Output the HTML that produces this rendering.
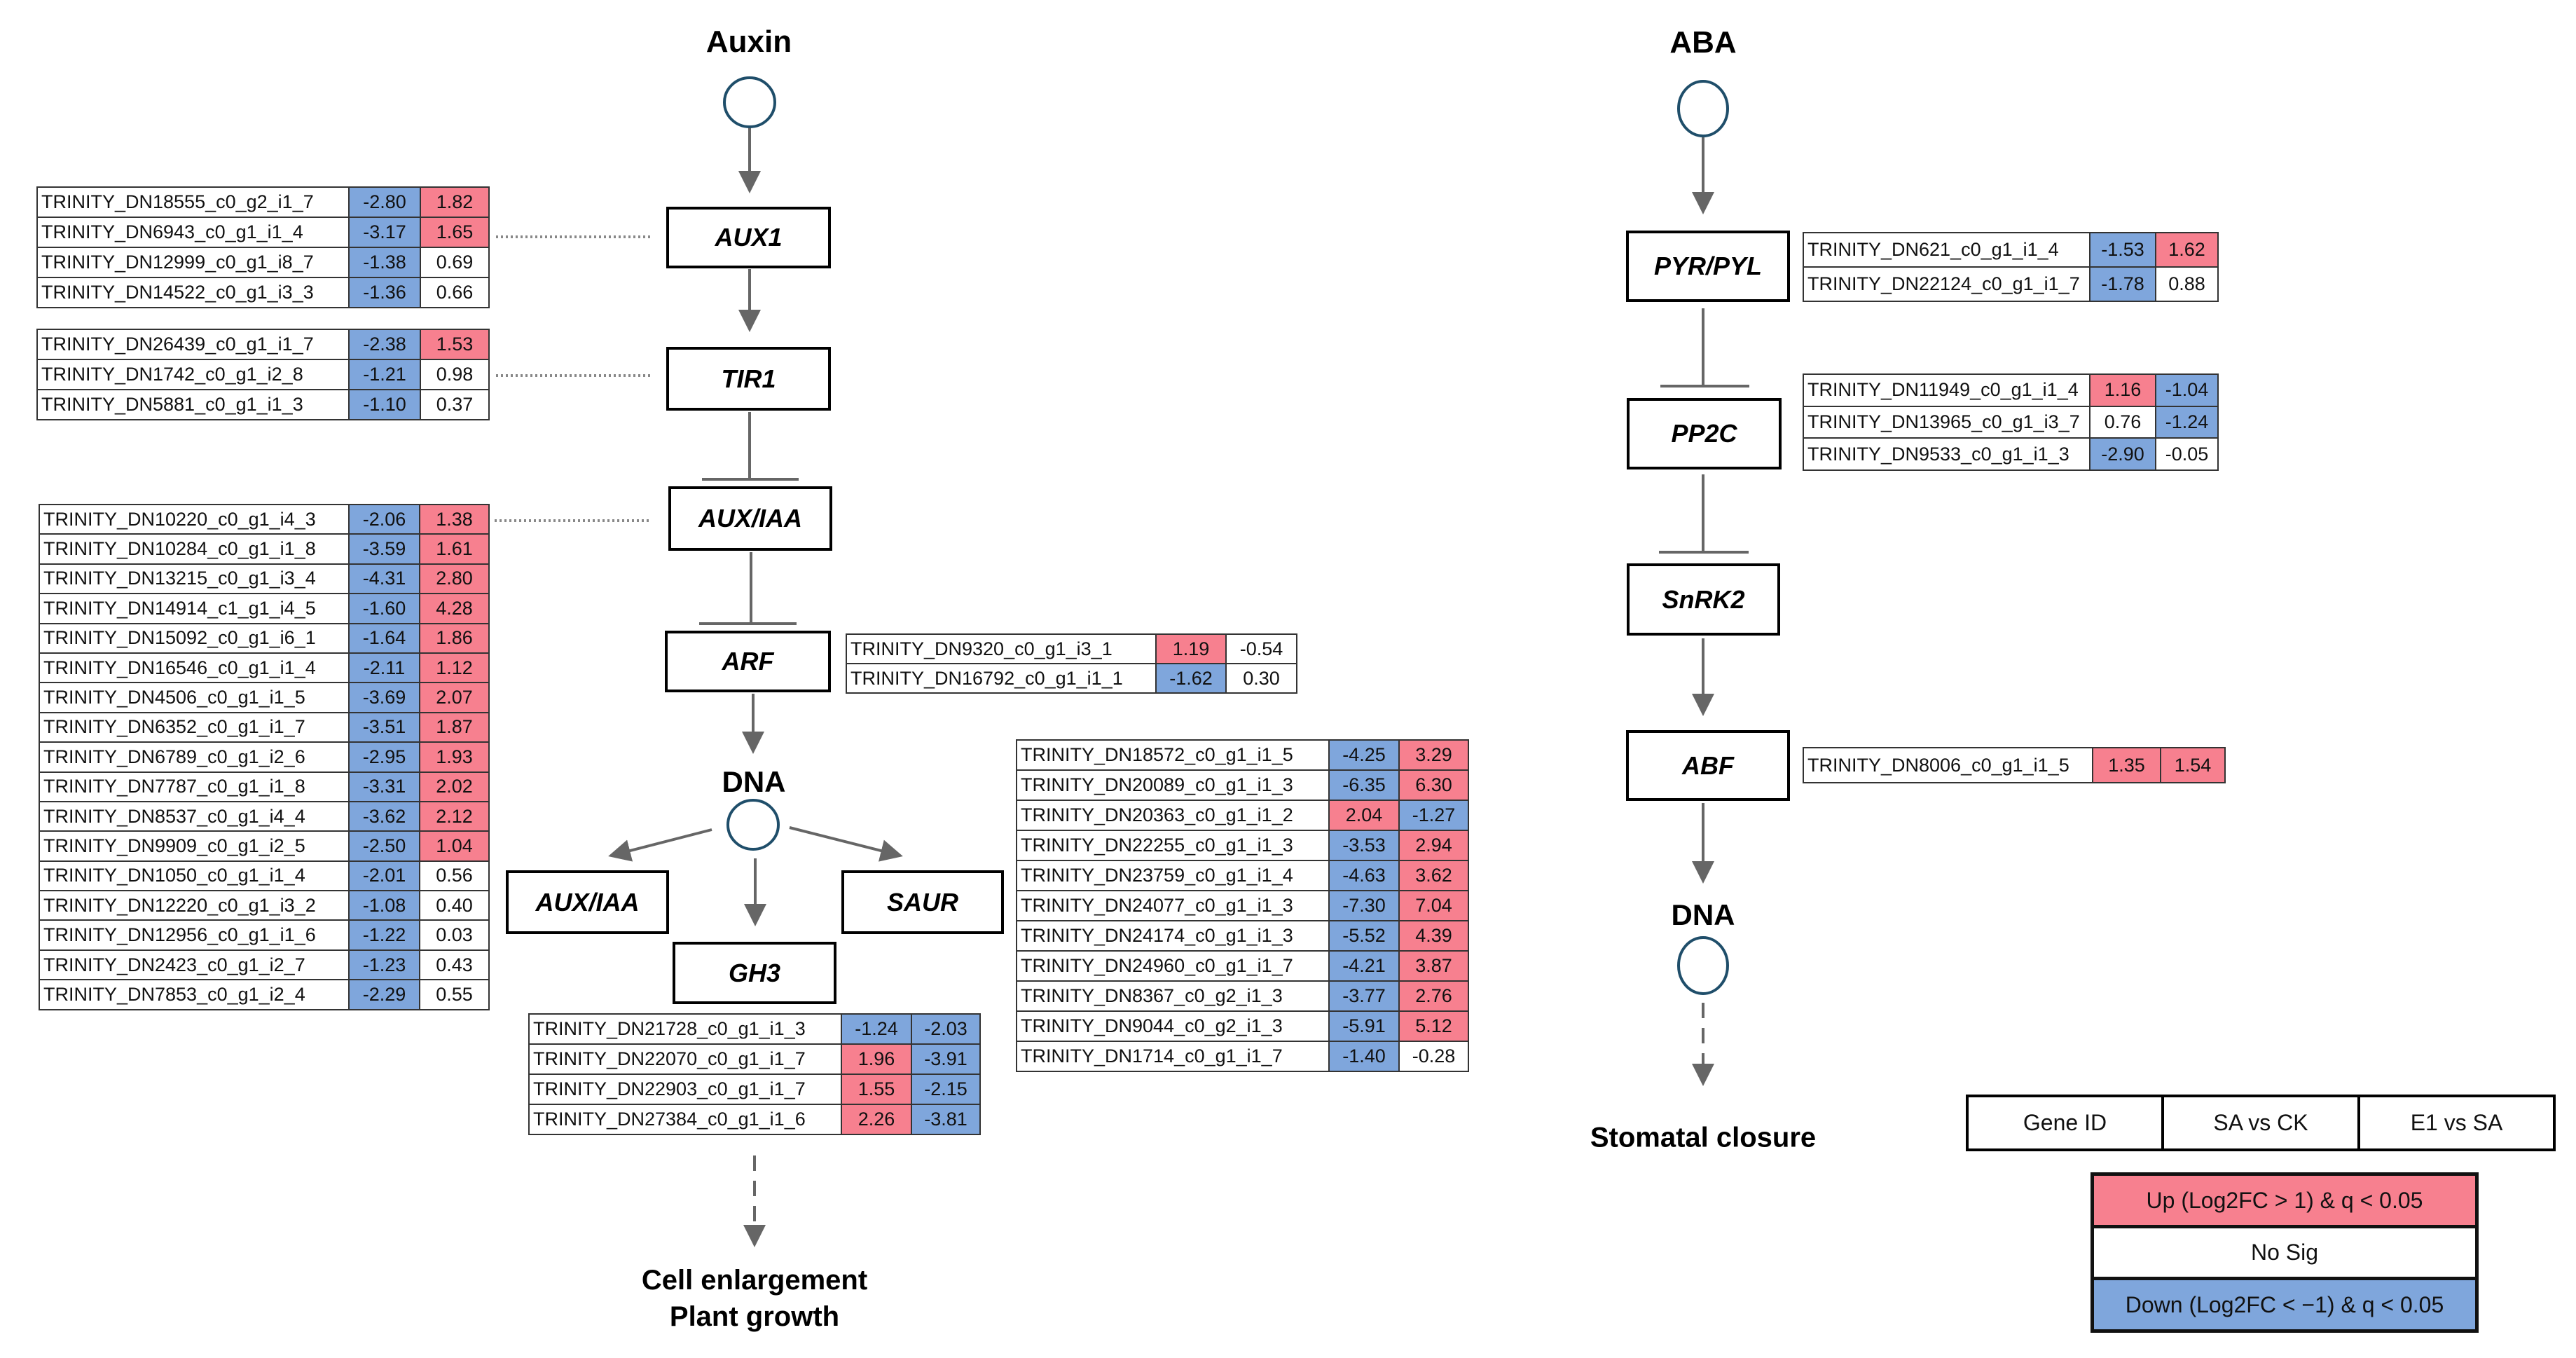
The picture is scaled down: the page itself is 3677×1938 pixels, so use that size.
<!DOCTYPE html>
<html><head><meta charset="utf-8">
<style>
body{margin:0;width:3677px;height:1938px;background:#fff;position:relative;overflow:hidden;font-family:"Liberation Sans",Arial,sans-serif;}
.t{position:absolute;border-collapse:collapse;table-layout:fixed;font-size:27px;color:#111;}
.t td{border:2px solid #333;padding:0;white-space:nowrap;overflow:hidden;}
.t td.n{padding-left:5px;text-align:left;}
.t td.v{text-align:center;}
.b{background:#7fa6dc;}
.r{background:#f7808f;}
.box{position:absolute;border:4px solid #000;box-sizing:border-box;display:flex;align-items:center;justify-content:center;font-weight:bold;font-style:italic;font-size:36px;background:#fff;}
.lbl{position:absolute;font-weight:bold;text-align:center;transform:translate(-50%,-50%);white-space:nowrap;color:#000;}
</style></head><body>
<svg width="3677" height="1938" style="position:absolute;left:0;top:0">
<defs>
<marker id="ah" markerWidth="8" markerHeight="8" refX="7" refY="4" orient="auto" markerUnits="strokeWidth"><path d="M0,0 L8,4 L0,8 z" fill="#666"/></marker>
</defs>
<g stroke="#666" stroke-width="4" fill="none">
<!-- Auxin -->
<line x1="1070" y1="182" x2="1070" y2="272" marker-end="url(#ah)"/>
<line x1="1070" y1="384" x2="1070" y2="470" marker-end="url(#ah)"/>
<line x1="1070" y1="588" x2="1070" y2="684"/>
<line x1="1002" y1="684" x2="1140" y2="684"/>
<line x1="1072" y1="788" x2="1072" y2="890"/>
<line x1="998" y1="890" x2="1137" y2="890"/>
<line x1="1075" y1="990" x2="1075" y2="1072" marker-end="url(#ah)"/>
<line x1="1016" y1="1184" x2="872" y2="1221" marker-end="url(#ah)"/>
<line x1="1127" y1="1181" x2="1285" y2="1221" marker-end="url(#ah)"/>
<line x1="1078" y1="1225" x2="1078" y2="1318" marker-end="url(#ah)"/>
<line x1="1077" y1="1649" x2="1077" y2="1776" stroke-dasharray="22,14" marker-end="url(#ah)"/>
<!-- ABA -->
<line x1="2431" y1="196" x2="2431" y2="302" marker-end="url(#ah)"/>
<line x1="2431" y1="440" x2="2431" y2="551"/>
<line x1="2370" y1="551" x2="2497" y2="551"/>
<line x1="2431" y1="677" x2="2431" y2="788"/>
<line x1="2368" y1="788" x2="2496" y2="788"/>
<line x1="2431" y1="911" x2="2431" y2="1018" marker-end="url(#ah)"/>
<line x1="2431" y1="1146" x2="2431" y2="1257" marker-end="url(#ah)"/>
<line x1="2431" y1="1431" x2="2431" y2="1546" stroke-dasharray="22,14" marker-end="url(#ah)"/>
</g>
<g stroke="#888" stroke-width="4" stroke-dasharray="3,4" fill="none">
<line x1="708" y1="338" x2="932" y2="338"/>
<line x1="708" y1="536" x2="932" y2="536"/>
<line x1="706" y1="743" x2="930" y2="743"/>
</g>
<g stroke="#1f4e6a" stroke-width="4" fill="#fff">
<ellipse cx="1070" cy="146" rx="36" ry="35"/>
<ellipse cx="1075" cy="1177" rx="36" ry="35"/>
<ellipse cx="2431" cy="155" rx="35" ry="39"/>
<ellipse cx="2431" cy="1378" rx="35" ry="40"/>
</g>
</svg>

<div class="lbl" style="left:1069px;top:60px;font-size:44px">Auxin</div>
<div class="lbl" style="left:1076px;top:1116px;font-size:42px">DNA</div>
<div class="lbl" style="left:1077px;top:1853px;font-size:40px;line-height:52px">Cell enlargement<br>Plant growth</div>
<div class="lbl" style="left:2431px;top:61px;font-size:44px">ABA</div>
<div class="lbl" style="left:2431px;top:1306px;font-size:42px">DNA</div>
<div class="lbl" style="left:2431px;top:1624px;font-size:40px">Stomatal closure</div>

<div class="box" style="left:951px;top:295px;width:235px;height:88px">AUX1</div>
<div class="box" style="left:951px;top:495px;width:235px;height:91px">TIR1</div>
<div class="box" style="left:954px;top:694px;width:234px;height:92px">AUX/IAA</div>
<div class="box" style="left:949px;top:900px;width:237px;height:88px">ARF</div>
<div class="box" style="left:722px;top:1242px;width:233px;height:91px">AUX/IAA</div>
<div class="box" style="left:1201px;top:1242px;width:232px;height:91px">SAUR</div>
<div class="box" style="left:960px;top:1344px;width:234px;height:89px">GH3</div>
<div class="box" style="left:2321px;top:329px;width:234px;height:102px">PYR/PYL</div>
<div class="box" style="left:2322px;top:568px;width:221px;height:102px">PP2C</div>
<div class="box" style="left:2322px;top:804px;width:219px;height:103px">SnRK2</div>
<div class="box" style="left:2321px;top:1042px;width:234px;height:101px">ABF</div>

<table class="t" style="left:52px;top:266px;width:645px">
<colgroup><col style="width:445px"><col style="width:102px"><col style="width:98px"></colgroup>
<tr style="height:43px"><td class="n">TRINITY_DN18555_c0_g2_i1_7</td><td class="v b">-2.80</td><td class="v r">1.82</td></tr>
<tr style="height:43px"><td class="n">TRINITY_DN6943_c0_g1_i1_4</td><td class="v b">-3.17</td><td class="v r">1.65</td></tr>
<tr style="height:43px"><td class="n">TRINITY_DN12999_c0_g1_i8_7</td><td class="v b">-1.38</td><td class="v">0.69</td></tr>
<tr style="height:43px"><td class="n">TRINITY_DN14522_c0_g1_i3_3</td><td class="v b">-1.36</td><td class="v">0.66</td></tr>
</table>

<table class="t" style="left:52px;top:469px;width:645px">
<colgroup><col style="width:445px"><col style="width:102px"><col style="width:98px"></colgroup>
<tr style="height:43px"><td class="n">TRINITY_DN26439_c0_g1_i1_7</td><td class="v b">-2.38</td><td class="v r">1.53</td></tr>
<tr style="height:43px"><td class="n">TRINITY_DN1742_c0_g1_i2_8</td><td class="v b">-1.21</td><td class="v">0.98</td></tr>
<tr style="height:43px"><td class="n">TRINITY_DN5881_c0_g1_i1_3</td><td class="v b">-1.10</td><td class="v">0.37</td></tr>
</table>

<table class="t" style="left:55px;top:719px;width:642px">
<colgroup><col style="width:442px"><col style="width:101px"><col style="width:99px"></colgroup>
<tr style="height:42.4px"><td class="n">TRINITY_DN10220_c0_g1_i4_3</td><td class="v b">-2.06</td><td class="v r">1.38</td></tr>
<tr style="height:42.4px"><td class="n">TRINITY_DN10284_c0_g1_i1_8</td><td class="v b">-3.59</td><td class="v r">1.61</td></tr>
<tr style="height:42.4px"><td class="n">TRINITY_DN13215_c0_g1_i3_4</td><td class="v b">-4.31</td><td class="v r">2.80</td></tr>
<tr style="height:42.4px"><td class="n">TRINITY_DN14914_c1_g1_i4_5</td><td class="v b">-1.60</td><td class="v r">4.28</td></tr>
<tr style="height:42.4px"><td class="n">TRINITY_DN15092_c0_g1_i6_1</td><td class="v b">-1.64</td><td class="v r">1.86</td></tr>
<tr style="height:42.4px"><td class="n">TRINITY_DN16546_c0_g1_i1_4</td><td class="v b">-2.11</td><td class="v r">1.12</td></tr>
<tr style="height:42.4px"><td class="n">TRINITY_DN4506_c0_g1_i1_5</td><td class="v b">-3.69</td><td class="v r">2.07</td></tr>
<tr style="height:42.4px"><td class="n">TRINITY_DN6352_c0_g1_i1_7</td><td class="v b">-3.51</td><td class="v r">1.87</td></tr>
<tr style="height:42.4px"><td class="n">TRINITY_DN6789_c0_g1_i2_6</td><td class="v b">-2.95</td><td class="v r">1.93</td></tr>
<tr style="height:42.4px"><td class="n">TRINITY_DN7787_c0_g1_i1_8</td><td class="v b">-3.31</td><td class="v r">2.02</td></tr>
<tr style="height:42.4px"><td class="n">TRINITY_DN8537_c0_g1_i4_4</td><td class="v b">-3.62</td><td class="v r">2.12</td></tr>
<tr style="height:42.4px"><td class="n">TRINITY_DN9909_c0_g1_i2_5</td><td class="v b">-2.50</td><td class="v r">1.04</td></tr>
<tr style="height:42.4px"><td class="n">TRINITY_DN1050_c0_g1_i1_4</td><td class="v b">-2.01</td><td class="v">0.56</td></tr>
<tr style="height:42.4px"><td class="n">TRINITY_DN12220_c0_g1_i3_2</td><td class="v b">-1.08</td><td class="v">0.40</td></tr>
<tr style="height:42.4px"><td class="n">TRINITY_DN12956_c0_g1_i1_6</td><td class="v b">-1.22</td><td class="v">0.03</td></tr>
<tr style="height:42.4px"><td class="n">TRINITY_DN2423_c0_g1_i2_7</td><td class="v b">-1.23</td><td class="v">0.43</td></tr>
<tr style="height:42.4px"><td class="n">TRINITY_DN7853_c0_g1_i2_4</td><td class="v b">-2.29</td><td class="v">0.55</td></tr>
</table>

<table class="t" style="left:1207px;top:904px;width:643px">
<colgroup><col style="width:442px"><col style="width:100px"><col style="width:101px"></colgroup>
<tr style="height:42px"><td class="n">TRINITY_DN9320_c0_g1_i3_1</td><td class="v r">1.19</td><td class="v">-0.54</td></tr>
<tr style="height:42px"><td class="n">TRINITY_DN16792_c0_g1_i1_1</td><td class="v b">-1.62</td><td class="v">0.30</td></tr>
</table>

<table class="t" style="left:754px;top:1446px;width:644px">
<colgroup><col style="width:446px"><col style="width:100px"><col style="width:98px"></colgroup>
<tr style="height:43px"><td class="n">TRINITY_DN21728_c0_g1_i1_3</td><td class="v b">-1.24</td><td class="v b">-2.03</td></tr>
<tr style="height:43px"><td class="n">TRINITY_DN22070_c0_g1_i1_7</td><td class="v r">1.96</td><td class="v b">-3.91</td></tr>
<tr style="height:43px"><td class="n">TRINITY_DN22903_c0_g1_i1_7</td><td class="v r">1.55</td><td class="v b">-2.15</td></tr>
<tr style="height:43px"><td class="n">TRINITY_DN27384_c0_g1_i1_6</td><td class="v r">2.26</td><td class="v b">-3.81</td></tr>
</table>

<table class="t" style="left:1450px;top:1055px;width:645px">
<colgroup><col style="width:446px"><col style="width:100px"><col style="width:99px"></colgroup>
<tr style="height:43px"><td class="n">TRINITY_DN18572_c0_g1_i1_5</td><td class="v b">-4.25</td><td class="v r">3.29</td></tr>
<tr style="height:43px"><td class="n">TRINITY_DN20089_c0_g1_i1_3</td><td class="v b">-6.35</td><td class="v r">6.30</td></tr>
<tr style="height:43px"><td class="n">TRINITY_DN20363_c0_g1_i1_2</td><td class="v r">2.04</td><td class="v b">-1.27</td></tr>
<tr style="height:43px"><td class="n">TRINITY_DN22255_c0_g1_i1_3</td><td class="v b">-3.53</td><td class="v r">2.94</td></tr>
<tr style="height:43px"><td class="n">TRINITY_DN23759_c0_g1_i1_4</td><td class="v b">-4.63</td><td class="v r">3.62</td></tr>
<tr style="height:43px"><td class="n">TRINITY_DN24077_c0_g1_i1_3</td><td class="v b">-7.30</td><td class="v r">7.04</td></tr>
<tr style="height:43px"><td class="n">TRINITY_DN24174_c0_g1_i1_3</td><td class="v b">-5.52</td><td class="v r">4.39</td></tr>
<tr style="height:43px"><td class="n">TRINITY_DN24960_c0_g1_i1_7</td><td class="v b">-4.21</td><td class="v r">3.87</td></tr>
<tr style="height:43px"><td class="n">TRINITY_DN8367_c0_g2_i1_3</td><td class="v b">-3.77</td><td class="v r">2.76</td></tr>
<tr style="height:43px"><td class="n">TRINITY_DN9044_c0_g2_i1_3</td><td class="v b">-5.91</td><td class="v r">5.12</td></tr>
<tr style="height:43px"><td class="n">TRINITY_DN1714_c0_g1_i1_7</td><td class="v b">-1.40</td><td class="v">-0.28</td></tr>
</table>

<table class="t" style="left:2573px;top:331px;width:592px">
<colgroup><col style="width:409px"><col style="width:94px"><col style="width:89px"></colgroup>
<tr style="height:49px"><td class="n">TRINITY_DN621_c0_g1_i1_4</td><td class="v b">-1.53</td><td class="v r">1.62</td></tr>
<tr style="height:49px"><td class="n">TRINITY_DN22124_c0_g1_i1_7</td><td class="v b">-1.78</td><td class="v">0.88</td></tr>
</table>

<table class="t" style="left:2573px;top:533px;width:592px">
<colgroup><col style="width:409px"><col style="width:94px"><col style="width:89px"></colgroup>
<tr style="height:45.7px"><td class="n">TRINITY_DN11949_c0_g1_i1_4</td><td class="v r">1.16</td><td class="v b">-1.04</td></tr>
<tr style="height:45.7px"><td class="n">TRINITY_DN13965_c0_g1_i3_7</td><td class="v">0.76</td><td class="v b">-1.24</td></tr>
<tr style="height:45.7px"><td class="n">TRINITY_DN9533_c0_g1_i1_3</td><td class="v b">-2.90</td><td class="v">-0.05</td></tr>
</table>

<table class="t" style="left:2573px;top:1066px;width:602px">
<colgroup><col style="width:413px"><col style="width:97px"><col style="width:92px"></colgroup>
<tr style="height:50px"><td class="n">TRINITY_DN8006_c0_g1_i1_5</td><td class="v r">1.35</td><td class="v r">1.54</td></tr>
</table>

<table class="t" style="left:2806px;top:1562px;width:838px;font-size:32px">
<colgroup><col style="width:279px"><col style="width:280px"><col style="width:279px"></colgroup>
<tr style="height:77px"><td class="v" style="border:4px solid #000">Gene ID</td><td class="v" style="border:4px solid #000">SA vs CK</td><td class="v" style="border:4px solid #000">E1 vs SA</td></tr>
</table>

<table class="t" style="left:2984px;top:1673px;width:554px;font-size:32px">
<tr style="height:75px"><td class="v r" style="border:5px solid #111">Up (Log2FC &gt; 1) &amp; q &lt; 0.05</td></tr>
<tr style="height:74px"><td class="v" style="border:5px solid #111">No Sig</td></tr>
<tr style="height:75px"><td class="v b" style="border:5px solid #111">Down (Log2FC &lt; −1) &amp; q &lt; 0.05</td></tr>
</table>
</body></html>
